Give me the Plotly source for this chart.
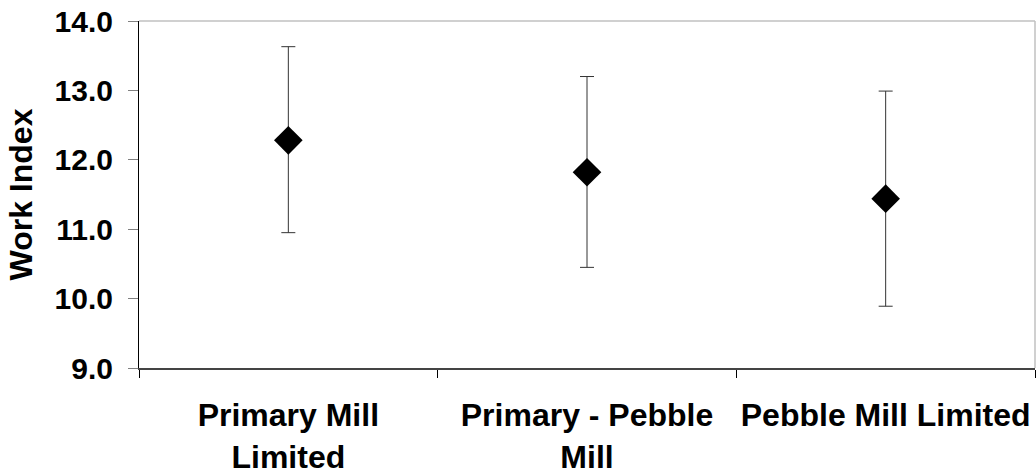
import plotly.graph_objects as go

categories = ["Primary Mill<br>Limited", "Primary - Pebble<br>Mill", "Pebble Mill Limited"]
mean_wi = [12.28, 11.82, 11.44]
upper_wi = [13.63, 13.20, 12.99]
lower_wi = [10.95, 10.45, 9.89]
y_ticks = [9.0, 10.0, 11.0, 12.0, 13.0, 14.0]

err_plus = [u - m for u, m in zip(upper_wi, mean_wi)]
err_minus = [m - l for m, l in zip(mean_wi, lower_wi)]

fam = "Liberation Sans, Arial, sans-serif"
xfont = dict(family=fam, size=32, color="black", weight="bold")
yfont = dict(family=fam, size=30, color="black", weight="bold")
tfont = dict(family=fam, size=32, color="black", weight="bold")

fig = go.Figure()
fig.add_trace(go.Scatter(
    x=categories, y=mean_wi, mode="markers",
    marker=dict(symbol="diamond", size=22, color="black"),
    error_y=dict(type="data", symmetric=False, array=err_plus, arrayminus=err_minus,
                 color="#333333", thickness=1, width=7),
    showlegend=False,
))

fig.update_layout(
    width=1036, height=474,
    margin=dict(l=139, r=1, t=21, b=106),
    paper_bgcolor="white", plot_bgcolor="white",
    font=xfont,
    xaxis=dict(type="category", tickson="boundaries", ticks="outside", ticklen=8,
               tickcolor="black", showline=True, linecolor="#444444", linewidth=1.5,
               showgrid=False, tickfont=xfont, ticklabelstandoff=18, range=[-0.5, 2.5],
               tickangle=0, automargin=False),
    yaxis=dict(range=[9, 14], tickvals=y_ticks, tickformat=".1f", ticks="outside",
               ticklen=10, tickcolor="#808080", showline=True, linecolor="black", linewidth=1,
               showgrid=False, zeroline=False, tickfont=yfont, ticklabelstandoff=9,
               automargin=False,
               title=dict(text="Work Index", font=tfont, standoff=12)),
    shapes=[
        dict(type="line", xref="paper", yref="paper", x0=0, x1=1, y0=1, y1=1,
             line=dict(color="#c0c0c0", width=1.5)),
        dict(type="line", xref="paper", yref="paper", x0=1, x1=1, y0=0, y1=1,
             line=dict(color="#c0c0c0", width=1.5)),
    ],
)

fig.write_html("out.html", config={"displayModeBar": False},
               post_script="document.body.style.margin='0';document.body.style.overflow='hidden';")
